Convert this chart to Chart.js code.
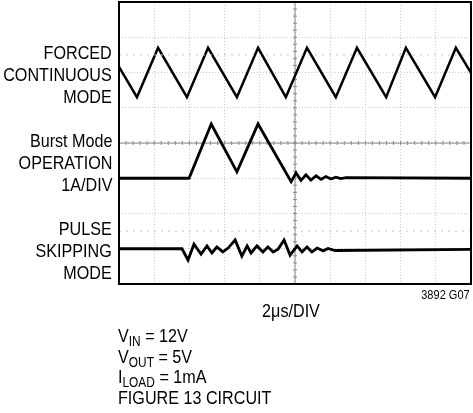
<!DOCTYPE html>
<html>
<head>
<meta charset="utf-8">
<script src="https://cdn.jsdelivr.net/npm/chart.js@4.4.0/dist/chart.umd.min.js"></script>
<style>
	body { margin: 0; background: #fff; }
	#wrap { position: relative; width: 473px; height: 413px; font-family: 'Liberation Sans', Arial, sans-serif; color: #000; }
	canvas { position: absolute; left: 0; top: 0; }
	.lbl { position: absolute; right: 361px; text-align: right; font-size: 19px; line-height: 22px; white-space: nowrap; transform: scaleX(0.85); transform-origin: right center; }
	.note { position: absolute; font-size: 19px; line-height: 20.5px; white-space: nowrap; transform: scaleX(0.85); transform-origin: left center; }
	sub { font-size: 14px; vertical-align: -4px; line-height: 0; }
</style>
</head>
<body>
<div id="wrap">
	<canvas id="scope" width="473" height="413"></canvas>
	<div class="lbl" style="top:42px">FORCED<br>CONTINUOUS<br>MODE</div>
	<div class="lbl" style="top:130px">Burst Mode<br>OPERATION<br>1A/DIV</div>
	<div class="lbl" style="top:218px">PULSE<br>SKIPPING<br>MODE</div>
	<div class="note" style="right:3px;top:288px;font-size:12px;line-height:14px;transform:scaleX(0.92);transform-origin:right center">3892 G07</div>
	<div class="note" style="left:191px;width:200px;text-align:center;top:301px;transform-origin:center">2μs/DIV</div>
	<div class="note" style="left:118px;top:326px">V<sub>IN</sub> = 12V<br>V<sub>OUT</sub> = 5V<br>I<sub>LOAD</sub> = 1mA<br>FIGURE 13 CIRCUIT</div>
</div>
<script>
// time axis in divisions (2us/DIV), amplitude in divisions from bottom
const forcedX = [0, 0.51, 1.11, 1.93, 2.53, 3.35, 3.95, 4.74, 5.34, 6.16, 6.76, 7.59, 8.15, 8.98, 9.57, 10]
const forcedY = [6.16, 5.3, 6.7, 5.3, 6.7, 5.3, 6.7, 5.3, 6.7, 5.3, 6.7, 5.3, 6.7, 5.3, 6.7, 5.99]

const burstX = [0, 1.99, 2.62, 3.35, 3.95, 4.89, 5.03, 5.17, 5.31, 5.45, 5.6, 5.74, 5.88, 6.02, 6.16, 6.3, 6.45, 10]
const burstY = [3.0, 3.0, 4.54, 3.18, 4.54, 2.9, 3.15, 2.94, 3.1, 2.95, 3.07, 2.97, 3.05, 2.98, 3.03, 2.99, 3.02, 3.0]

const pulseX = [0, 1.79, 1.96, 2.13, 2.33, 2.5, 2.64, 2.78, 2.95, 3.1, 3.3, 3.49, 3.64, 3.75, 3.92, 4.09, 4.23, 4.38, 4.52, 4.69, 4.86, 5.06, 5.2, 5.34, 5.48, 5.63, 5.8, 5.94, 6.14, 10]
const pulseY = [1.0, 1.0, 0.68, 1.13, 0.85, 1.08, 0.88, 1.05, 0.91, 1.02, 1.25, 0.79, 1.08, 0.88, 1.08, 0.91, 1.05, 0.91, 0.99, 1.25, 0.82, 1.08, 0.91, 1.05, 0.91, 1.02, 0.94, 1.01, 0.95, 0.98]

// dotted reference levels seen on the screen
const refLevels = [6.5, 1.5]

const pts = (xs, ys) => xs.map((x, i) => ({ x: x, y: ys[i] }))

const trace = (xs, ys, w) => ({
	data: pts(xs, ys),
	showLine: true,
	borderColor: '#000',
	borderWidth: w,
	pointRadius: 0,
	tension: 0
})

const refSets = refLevels.map((v) => ({
	data: [{ x: 0, y: v }, { x: 10, y: v }],
	showLine: true,
	borderColor: '#c8c8c8',
	borderWidth: 1,
	borderDash: [2, 5],
	pointRadius: 0
}))

// centre cross with small ticks, and the heavy frame
const scopeFrame = {
	id: 'scopeFrame',
	beforeDatasetsDraw(chart) {
		const { ctx, chartArea: a, scales: { x, y } } = chart
		const cx = x.getPixelForValue(5)
		const cy = y.getPixelForValue(4)
		ctx.save()
		ctx.strokeStyle = '#888'
		ctx.lineWidth = 1
		ctx.beginPath()
		ctx.moveTo(cx, a.top)
		ctx.lineTo(cx, a.bottom)
		ctx.moveTo(a.left, cy)
		ctx.lineTo(a.right, cy)
		for (let v = 0; v <= 10.001; v += 0.2) {
			const px = x.getPixelForValue(v)
			ctx.moveTo(px, cy - 2)
			ctx.lineTo(px, cy + 2)
		}
		for (let v = 0; v <= 8.001; v += 0.2) {
			const py = y.getPixelForValue(v)
			ctx.moveTo(cx - 2, py)
			ctx.lineTo(cx + 2, py)
		}
		ctx.stroke()
		ctx.restore()
	},
	afterDraw(chart) {
		const { ctx, chartArea: a } = chart
		ctx.save()
		ctx.strokeStyle = '#000'
		ctx.lineWidth = 2
		ctx.strokeRect(a.left, a.top, a.right - a.left, a.bottom - a.top)
		ctx.restore()
	}
}

new Chart(document.getElementById('scope'), {
	type: 'scatter',
	data: {
		datasets: [
			...refSets,
			trace(forcedX, forcedY, 2.5),
			trace(burstX, burstY, 2.8),
			trace(pulseX, pulseY, 2.8)
		]
	},
	options: {
		responsive: false,
		animation: false,
		events: [],
		layout: { padding: { left: 119, top: 2, right: 2, bottom: 129 } },
		plugins: { legend: { display: false }, tooltip: { enabled: false } },
		scales: {
			x: {
				min: 0,
				max: 10,
				afterFit: (s) => { s.height = 0 },
				ticks: { display: false, stepSize: 1 },
				grid: { color: '#c8c8c8', drawTicks: false },
				border: { display: false, dash: [1, 2] }
			},
			y: {
				min: 0,
				max: 8,
				afterFit: (s) => { s.width = 0 },
				ticks: { display: false, stepSize: 1 },
				grid: { color: '#c8c8c8', drawTicks: false },
				border: { display: false, dash: [1, 2] }
			}
		}
	},
	plugins: [scopeFrame]
})
</script>
</body>
</html>
